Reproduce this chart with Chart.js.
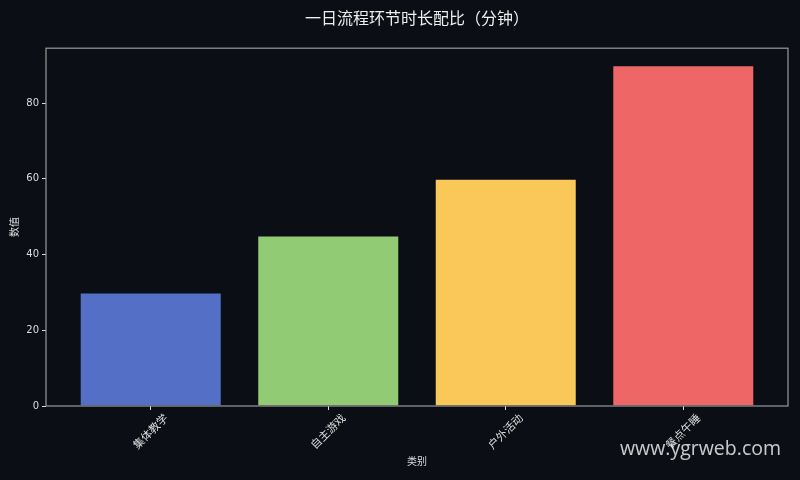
<!DOCTYPE html>
<html>
<head>
<meta charset="utf-8">
<script src="https://cdn.jsdelivr.net/npm/chart.js@4.4.0/dist/chart.umd.min.js"></script>
<style>
html, body { margin: 0; padding: 0; background: #0b0e14; }
#wrap { width: 800px; height: 480px; }
</style>
</head>
<body>
<div id="wrap"><canvas id="myChart" width="800" height="480"></canvas></div>
<script>
// data
var categories = ['集体教学', '自主游戏', '户外活动', '餐点午睡'];
var minutes = [30, 45, 60, 90];
var barColors = ['#5470c6', '#91cc75', '#fac858', '#ee6666'];
var yTicks = [0, 20, 40, 60, 80];

var FONT = "'DejaVu Sans', 'Noto Sans CJK SC', sans-serif";
var TEXT = '#dddddd';

// frame round the plot area, all four sides
var framePlugin = {
	id: 'frame',
	afterDatasetsDraw: function (chart)
	{
		var a = chart.chartArea;
		var ctx = chart.ctx;
		ctx.save();
		ctx.strokeStyle = '#9a9a9a';
		ctx.lineWidth = 1.2;
		ctx.strokeRect(a.left, a.top, a.right - a.left, a.bottom - a.top);
		ctx.restore();
	}
};

var watermarkPlugin = {
	id: 'watermark',
	afterDraw: function (chart)
	{
		var ctx = chart.ctx;
		ctx.save();
		ctx.font = "19.5px 'Open Sans', sans-serif";
		ctx.fillStyle = 'rgba(235,235,235,0.85)';
		ctx.textAlign = 'right';
		ctx.textBaseline = 'alphabetic';
		ctx.fillText('www.ygrweb.com', 781, 455);
		ctx.restore();
	}
};

var ctx = document.getElementById('myChart');
var myChart = new Chart(ctx, {
	type: 'bar',
	data: {
		datasets: [{
			data: minutes.map(function (v, i) { return {x: i, y: v}; }),
			backgroundColor: barColors,
			borderColor: 'rgba(12,16,28,0.6)',
			borderWidth: 1,
			barPercentage: 0.8,
			categoryPercentage: 1
		}]
	},
	options: {
		responsive: false,
		animation: false,
		layout: {padding: {left: 0, right: 12, top: 0, bottom: 0}},
		plugins: {
			legend: {display: false},
			tooltip: {enabled: false},
			title: {
				display: true,
				fullSize: false,
				text: '一日流程环节时长配比（分钟）',
				color: '#eeeeee',
				font: {family: FONT, size: 16, weight: 'normal'},
				padding: {top: 10, bottom: 19}
			}
		},
		scales: {
			x: {
				type: 'linear',
				min: -0.59,
				max: 3.59,
				offset: false,
				afterBuildTicks: function (s) { s.ticks = categories.map(function (c, i) { return {value: i}; }); },
				afterFit: function (s) { s.height = 74; },
				ticks: {
					autoSkip: false,
					minRotation: 45,
					maxRotation: 45,
					labelOffset: 16,
					padding: 2,
					color: TEXT,
					font: {family: FONT, size: 11},
					callback: function (v, i) { return categories[i]; }
				},
				grid: {display: true, offset: false, drawOnChartArea: false, tickLength: 4, tickColor: TEXT},
				border: {display: false},
				title: {display: true, text: '类别', color: TEXT, font: {family: FONT, size: 10}, padding: {top: 0, bottom: 12}}
			},
			y: {
				min: 0,
				max: 94.5,
				afterBuildTicks: function (s) { s.ticks = yTicks.map(function (v) { return {value: v}; }); },
				afterFit: function (s) { s.width = 46; },
				ticks: {color: TEXT, font: {family: FONT, size: 10}, padding: 3},
				grid: {display: true, drawOnChartArea: false, tickLength: 4, tickColor: TEXT},
				border: {display: false},
				title: {display: true, text: '数值', color: TEXT, font: {family: FONT, size: 10}, padding: {top: 9, bottom: 0}}
			}
		}
	},
	plugins: [framePlugin, watermarkPlugin]
});
</script>
</body>
</html>
